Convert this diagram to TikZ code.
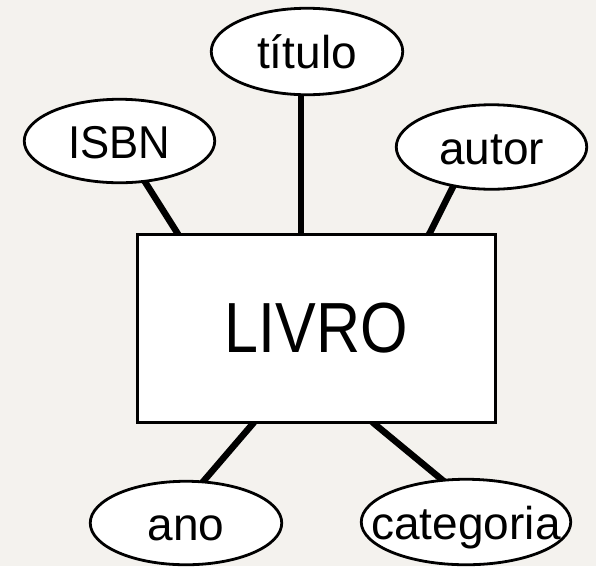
\documentclass[tikz,border=0pt]{standalone}
\usepackage{fontspec}
\setmainfont{Liberation Sans}
\usepackage{graphicx}
\usetikzlibrary{shapes.geometric,calc}
\definecolor{bgc}{HTML}{F4F2EE}
\pgfdeclarelayer{bg}
\pgfdeclarelayer{lines}
\pgfsetlayers{bg,lines,main}
\begin{document}
\begin{tikzpicture}[x=1pt,y=-1pt,
  attr/.style={ellipse,draw,line width=2.8pt,fill=white,inner sep=0pt,
    text height=34pt,text depth=0pt,font=\fontsize{46}{50}\selectfont},
  entity/.style={rectangle,draw,line width=3pt,fill=white,inner sep=0pt,
    minimum width=358pt,minimum height=188pt},
  link/.style={line width=6.5pt}]
\useasboundingbox (0,0) rectangle (596,566);
\begin{pgfonlayer}{bg}
  \fill[bgc] (0,0) rectangle (596,566);
\end{pgfonlayer}
\node[entity] (livro) at (316.5,328) {\fontsize{71}{80}\selectfont\scalebox{0.86}[1]{LIVRO}};
\node[attr,minimum width=191.5pt,minimum height=86.5pt] (titulo) at (307,51.5) {\makebox[0pt]{título}};
\node[attr,minimum width=190.5pt,minimum height=83.5pt] (isbn) at (119.5,141) {\makebox[0pt]{\scalebox{0.95}[1]{ISBN}}};
\node[attr,minimum width=190.5pt,minimum height=84.5pt] (autor) at (491.5,147) {\makebox[0pt]{autor}};
\node[attr,minimum width=191.5pt,minimum height=83.5pt] (ano) at (186,523) {\makebox[0pt]{ano}};
\node[attr,minimum width=209.5pt,minimum height=85.5pt] (categoria) at (466,522) {\makebox[0pt]{categoria}};
\coordinate (tt) at ($(livro.north west)+(165,0)$);
\begin{pgfonlayer}{lines}
  \draw[link] (tt |- titulo.center) -- ($(tt)+(0,6)$);
  \draw[link,shorten <=-4pt] (isbn.-58) -- ($(livro.north west)+(41,0)$) -- ++(3.5,6);
  \draw[link,shorten <=-4pt] (autor.-134) -- ($(livro.north west)+(294,0)$) -- ++(-3.5,6);
  \draw[link,shorten <=-4pt] (ano.67) -- ($(livro.south west)+(117,0)$) -- ++(4.5,-6);
  \draw[link,shorten <=-4pt] (categoria.120) -- ($(livro.south west)+(238,0)$) -- ++(-6.5,-6);
\end{pgfonlayer}
\end{tikzpicture}
\end{document}
